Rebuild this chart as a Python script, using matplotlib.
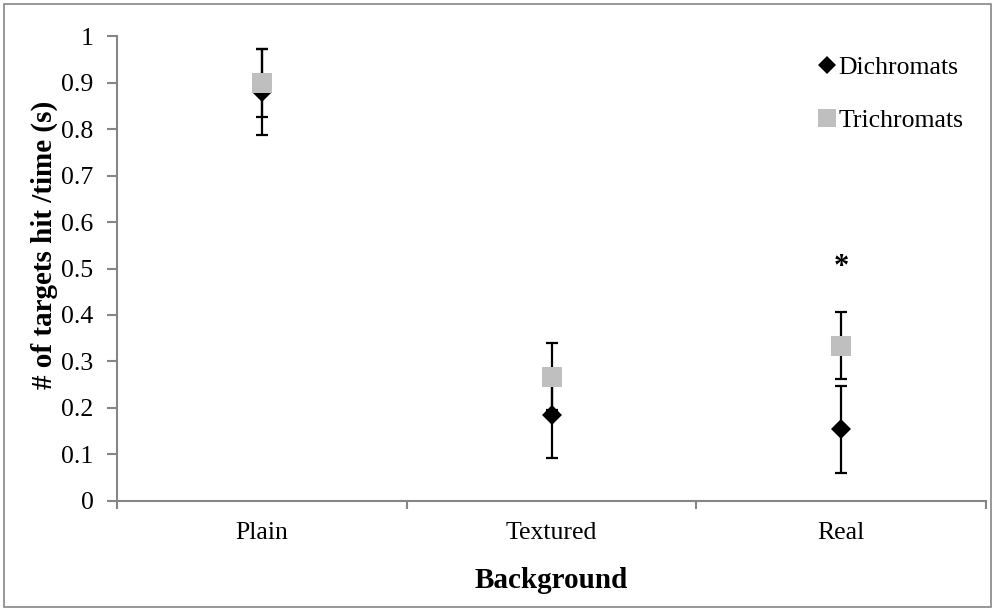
import matplotlib
matplotlib.use("Agg")
import matplotlib.pyplot as plt
from matplotlib.patches import Rectangle
from matplotlib.lines import Line2D

categories = ["Plain", "Textured", "Real"]
dichromats = [0.880, 0.185, 0.154]
dichromats_err = [0.093, 0.094, 0.094]
trichromats = [0.899, 0.267, 0.334]
trichromats_err = [0.073, 0.072, 0.073]
star_category = "Real"
star_value = 0.503

plt.rcParams['font.family'] = ['Liberation Serif', 'DejaVu Serif']

W, H = 992, 608
fig = plt.figure(figsize=(W / 100, H / 100), dpi=100)
ax = fig.add_axes([117 / W, 1 - 500.7 / H, (986 - 117) / W, (500.7 - 36.3) / H])

x = list(range(1, len(categories) + 1))
gray_axis = '#868686'

ax.errorbar(x, dichromats, yerr=dichromats_err, fmt='none', ecolor='black',
            elinewidth=1.6, capsize=4.2, capthick=1.6, zorder=2)
ax.errorbar(x, trichromats, yerr=trichromats_err, fmt='none', ecolor='black',
            elinewidth=1.6, capsize=4.2, capthick=1.6, zorder=2)
ax.plot(x, dichromats, linestyle='none', marker='D', markersize=10.5,
        color='black', markeredgewidth=0, zorder=3)
ax.plot(x, trichromats, linestyle='none', marker='s', markersize=14.4,
        color='#bfbfbf', markeredgewidth=0, zorder=4)

sx = x[categories.index(star_category)]
ax.text(sx, star_value, '*', ha='center', va='center', fontsize=22,
        fontweight='bold', color='black')

ax.set_xlim(0.5, len(categories) + 0.5)
ax.set_ylim(0, 1)
ax.set_yticks([i / 10 for i in range(11)])
ax.set_yticklabels([f"{i / 10:g}" for i in range(11)])
ax.set_xticks([i + 0.5 for i in range(len(categories) + 1)])
ax.set_xticklabels([])
ax.set_xticks(x, minor=True)
ax.set_xticklabels(categories, minor=True)
ax.tick_params(axis='x', which='major', direction='out', length=6, width=1.5, color=gray_axis)
ax.tick_params(axis='x', which='minor', length=0, pad=15, labelsize=18.5)
ax.tick_params(axis='y', direction='out', length=7, width=1.5, color=gray_axis,
               labelsize=18.5, pad=10)

for s in ['top', 'right']:
    ax.spines[s].set_visible(False)
for s in ['left', 'bottom']:
    ax.spines[s].set_color(gray_axis)
    ax.spines[s].set_linewidth(1.5)

ax.set_ylabel('# of targets hit /time (s)', fontsize=21, fontweight='bold')
ax.yaxis.set_label_coords((58 - 117) / (986 - 117), (500.7 - 245) / (500.7 - 36.3))
ax.set_xlabel('Background', fontsize=21, fontweight='bold', labelpad=17)

handles = [
    Line2D([], [], linestyle='none', marker='D', markersize=9.5, color='black', markeredgewidth=0),
    Line2D([], [], linestyle='none', marker='s', markersize=12.5, color='#bfbfbf', markeredgewidth=0),
]
leg = ax.legend(handles, ['Dichromats', 'Trichromats'], loc='upper left',
                bbox_to_anchor=(819 / W, 1 - 56 / H), bbox_transform=fig.transFigure,
                frameon=False, fontsize=18.5, handlelength=0.6, handletextpad=0.15,
                labelspacing=1.15, borderpad=0, borderaxespad=0)

fig.patches.append(Rectangle((3.5 / W, 1 / H), (W - 5) / W, (H - 4.5) / H,
                             transform=fig.transFigure, fill=False,
                             edgecolor=gray_axis, linewidth=1.2))

fig.savefig('out.png', dpi=100)
